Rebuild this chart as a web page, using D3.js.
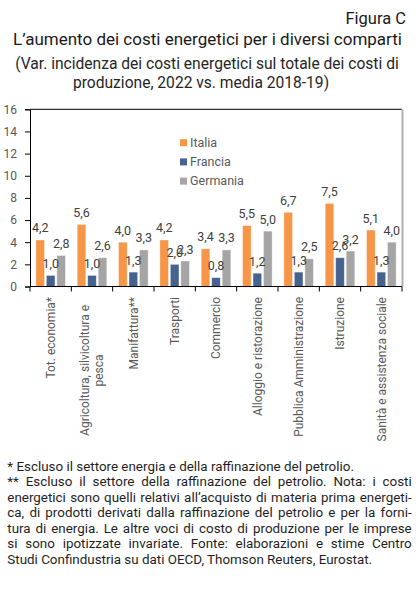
<!DOCTYPE html>
<html>
<head>
<meta charset="utf-8">
<script src="https://cdn.jsdelivr.net/npm/d3@7"></script>
<style>
  html, body { margin: 0; padding: 0; background: #fff; }
  svg { display: block; font-family: Roboto, "Noto Sans", sans-serif; }
</style>
</head>
<body>
<svg id="chart" width="420" height="589"></svg>
<script>
const categories = [
  ["Tot. economia*"],
  ["Agricoltura, silvicoltura e", "pesca"],
  ["Manifattura**"],
  ["Trasporti"],
  ["Commercio"],
  ["Alloggio e ristorazione"],
  ["Pubblica Amministrazione"],
  ["Istruzione"],
  ["Sanità e assistenza sociale"]
];
const seriesNames = ["Italia", "Francia", "Germania"];
const italia   = [4.2, 5.6, 4.0, 4.2, 3.4, 5.5, 6.7, 7.5, 5.1];
const francia  = [1.0, 1.0, 1.3, 2.0, 0.8, 1.2, 1.3, 2.6, 1.3];
const germania = [2.8, 2.6, 3.3, 2.3, 3.3, 5.0, 2.5, 3.2, 4.0];
const yTicks = [0, 2, 4, 6, 8, 10, 12, 14, 16];
const figLabel = "Figura C";
const title = "L’aumento dei costi energetici per i diversi comparti";
const subtitle = ["(Var. incidenza dei costi energetici sul totale dei costi di",
                  "produzione, 2022 vs. media 2018-19)"];
const notes = [
  ["* Escluso il settore energia e della raffinazione del petrolio."],
  ["** Escluso il settore della raffinazione del petrolio. Nota: i costi",
   "energetici sono quelli relativi all’acquisto di materia prima energeti-",
   "ca, di prodotti derivati dalla raffinazione del petrolio e per la forni-",
   "tura di energia. Le altre voci di costo di produzione per le imprese",
   "si sono ipotizzate invariate. Fonte: elaborazioni e stime Centro",
   "Studi Confindustria su dati OECD, Thomson Reuters, Eurostat."]
];

(function() {
const colors = ["#F79646", "#46628F", "#A5A5A5"];
const values = [italia, francia, germania];
const fmt = v => d3.format(".1f")(v).replace(".", ",");

const svg = d3.select("#chart");
const pLeft = 30, pRight = 402, pTop = 109.3, pBottom = 286.5;

const x = d3.scaleBand().domain(d3.range(categories.length)).range([pLeft, pRight]).padding(0);
const xs = d3.scaleBand().domain(d3.range(seriesNames.length)).range([0, x.bandwidth()])
  .paddingInner(0.18).paddingOuter(0.56);
const y = d3.scaleLinear().domain([0, 16]).range([pBottom, pTop]);

// Titles
svg.append("text").attr("x", 406).attr("y", 23.5).attr("text-anchor", "end")
  .attr("font-size", 16.5).attr("fill", "#1a1a1a").text(figLabel);
svg.append("text").attr("x", 207.5).attr("y", 45).attr("text-anchor", "middle")
  .attr("font-size", 17).attr("fill", "#1a1a1a").text(title);
svg.append("text").attr("x", 207).attr("y", 69).attr("text-anchor", "middle")
  .attr("font-size", 15.6).attr("fill", "#262626").text(subtitle[0]);
svg.append("text").attr("x", 201).attr("y", 88).attr("text-anchor", "middle")
  .attr("font-size", 15.6).attr("fill", "#262626").text(subtitle[1]);

// Plot frame: top line and right grey line
svg.append("line").attr("x1", pLeft).attr("x2", pRight).attr("y1", pTop).attr("y2", pTop)
  .attr("stroke", "#000").attr("stroke-width", 1);
svg.append("line").attr("x1", pRight + 0.5).attr("x2", pRight + 0.5).attr("y1", pTop).attr("y2", pBottom)
  .attr("stroke", "#B0B0B0").attr("stroke-width", 2);

// Y axis
const yAxis = svg.append("g").attr("transform", `translate(${pLeft},0)`)
  .call(d3.axisLeft(y).tickValues(yTicks).tickSize(5).tickPadding(8).tickFormat(d3.format("d")));
yAxis.select(".domain").attr("stroke", "#000");
yAxis.selectAll(".tick line").attr("stroke", "#000");
yAxis.selectAll(".tick text").attr("font-size", 12).attr("fill", "#595959")
  .attr("font-family", "Roboto, sans-serif");

// Bars
const groups = svg.append("g").selectAll("g").data(categories).join("g")
  .attr("transform", (d, i) => `translate(${x(i)},0)`);
groups.each(function(d, i) {
  const g = d3.select(this);
  values.forEach((arr, s) => {
    g.append("rect")
      .attr("x", xs(s)).attr("width", xs.bandwidth())
      .attr("y", y(arr[i])).attr("height", y(0) - y(arr[i]))
      .attr("fill", colors[s])
      .attr("stroke", "#fff").attr("stroke-opacity", 0.45).attr("stroke-width", 0.8);
  });
  values.forEach((arr, s) => {
    g.append("text")
      .attr("x", xs(s) + xs.bandwidth() / 2).attr("y", y(arr[i]) - 7.5)
      .attr("text-anchor", "middle").attr("font-size", 12.5).attr("fill", "#404040")
      .text(fmt(arr[i]));
  });
});

// X axis
const xAxis = svg.append("g").attr("transform", `translate(0,${pBottom})`);
xAxis.append("line").attr("x1", pLeft).attr("x2", pRight).attr("y1", 0).attr("y2", 0).attr("stroke", "#000");
xAxis.selectAll("line.tk").data(d3.range(categories.length + 1)).join("line").attr("class", "tk")
  .attr("x1", i => i < categories.length ? x(i) : pRight)
  .attr("x2", i => i < categories.length ? x(i) : pRight)
  .attr("y1", 0).attr("y2", 5).attr("stroke", "#000");

// X labels
categories.forEach((lines, i) => {
  const cx = x(i) + x.bandwidth() / 2;
  const lh = 14;
  const n = lines.length;
  if (n === 1) {
    svg.append("text").attr("font-size", 12).attr("fill", "#595959")
      .attr("text-anchor", "end")
      .attr("transform", `translate(${cx + 4.3},297) rotate(-90)`)
      .text(lines[0]);
  } else {
    const tmp = svg.append("text").attr("font-size", 12).text(lines[0]);
    let maxW = 0;
    lines.forEach(l => { tmp.text(l); maxW = Math.max(maxW, tmp.node().getComputedTextLength()); });
    tmp.remove();
    const cy = 297 + maxW / 2 + 8;
    lines.forEach((l, k) => {
      svg.append("text").attr("font-size", 12).attr("fill", "#595959")
        .attr("text-anchor", "middle")
        .attr("transform", `translate(${cx + 4.3 + (k - (n - 1) / 2) * lh},${cy}) rotate(-90)`)
        .text(l);
    });
  }
});

// Legend
const legend = svg.append("g");
seriesNames.forEach((name, s) => {
  const cy = 142.7 + s * 19.2;
  legend.append("rect").attr("x", 180).attr("y", cy - 3.5).attr("width", 7).attr("height", 7).attr("fill", colors[s]);
  legend.append("text").attr("x", 190).attr("y", cy + 4.3).attr("font-size", 12.5).attr("fill", "#595959").text(name);
});

// Notes with justification
const noteLeft = 7.3, noteRight = 411.7, noteFS = 13.4;
let baseline = 471;
const lineStep = 15.45;
const meas = svg.append("text").attr("font-size", noteFS);
notes.forEach(par => {
  par.forEach((line, li) => {
    const isLast = li === par.length - 1;
    if (isLast) {
      svg.append("text").attr("x", noteLeft).attr("y", baseline).attr("font-size", noteFS)
        .attr("fill", "#1f1f1f").text(line);
    } else {
      const words = line.split(" ");
      const widths = words.map(w => { meas.text(w); return meas.node().getComputedTextLength(); });
      const total = d3.sum(widths);
      const gap = (noteRight - noteLeft - total) / (words.length - 1);
      let cx = noteLeft;
      words.forEach((w, k) => {
        svg.append("text").attr("x", cx).attr("y", baseline).attr("font-size", noteFS)
          .attr("fill", "#1f1f1f").text(w);
        cx += widths[k] + gap;
      });
    }
    baseline += lineStep;
  });
});
meas.remove();
})();
</script>
</body>
</html>
